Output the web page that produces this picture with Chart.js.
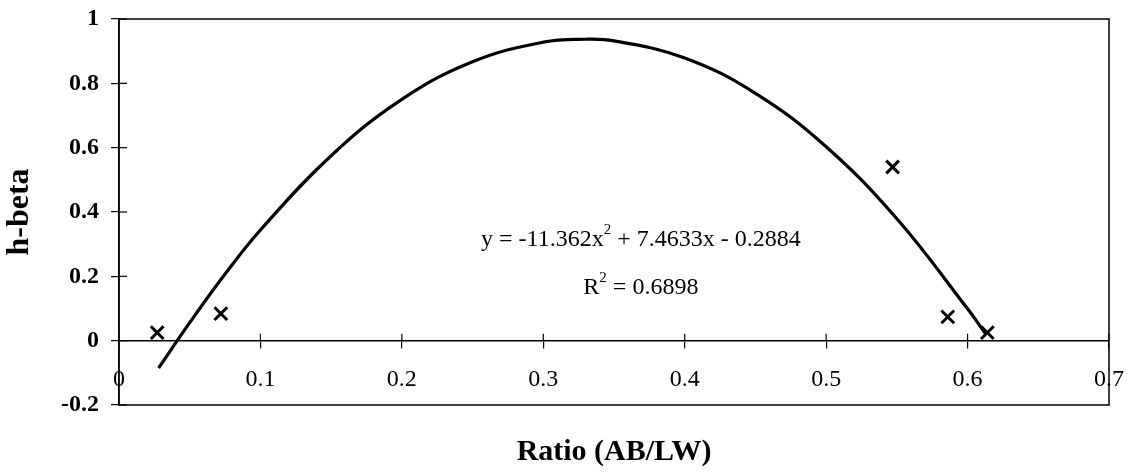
<!DOCTYPE html>
<html>
<head>
<meta charset="utf-8">
<script src="https://cdn.jsdelivr.net/npm/chart.js@4"></script>
<style>
  html, body { margin: 0; padding: 0; background: #fff; }
  #wrap { width: 1128px; height: 476px; }
</style>
</head>
<body>
<div id="wrap"><canvas id="myChart"></canvas></div>
<script>
// measured points (Ratio AB/LW vs h-beta)
const ratioX = [0.027, 0.072, 0.547, 0.586, 0.614];
const hbetaY = [0.025, 0.084, 0.54, 0.074, 0.025];

// trend curve
const curveX = [0.028, 0.05, 0.075, 0.1, 0.15, 0.2, 0.25, 0.3, 0.33, 0.35, 0.4, 0.45, 0.5, 0.55, 0.6, 0.613];
const curveY = [-0.085, 0.056, 0.207, 0.344, 0.575, 0.75, 0.867, 0.928, 0.937, 0.932, 0.879, 0.769, 0.603, 0.379, 0.099, 0.02];

const xTicks = [0, 0.1, 0.2, 0.3, 0.4, 0.5, 0.6, 0.7];
const yTicks = [-0.2, 0, 0.2, 0.4, 0.6, 0.8, 1];

const eqLine1 = ['y = -11.362x', '2', ' + 7.4633x - 0.2884'];
const eqLine2 = ['R', '2', ' = 0.6898'];

const serif = '"Liberation Serif", "Times New Roman", serif';

const points = ratioX.map((x, i) => ({ x: x, y: hbetaY[i] }));
const curve = curveX.map((x, i) => ({ x: x, y: curveY[i] }));

// frame + crossing ticks + equation text
const extras = {
  id: 'extras',
  afterDraw(chart) {
    const ctx = chart.ctx;
    const a = chart.chartArea;
    const xs = chart.scales.x, ys = chart.scales.y;
    ctx.save();
    ctx.strokeStyle = '#000';
    ctx.lineWidth = 1.5;
    ctx.strokeRect(a.left, a.top, a.right - a.left, a.bottom - a.top);

    // inner halves of tick marks
    const y0 = ys.getPixelForValue(0);
    ctx.lineWidth = 1.2;
    xTicks.forEach(v => {
      const px = xs.getPixelForValue(v);
      ctx.beginPath(); ctx.moveTo(px, y0 - 7); ctx.lineTo(px, y0); ctx.stroke();
    });
    yTicks.forEach(v => {
      const py = ys.getPixelForValue(v);
      ctx.beginPath(); ctx.moveTo(a.left, py); ctx.lineTo(a.left + 8, py); ctx.stroke();
    });

    // equation
    ctx.fillStyle = '#000';
    ctx.textBaseline = 'middle';
    function drawEq(parts, vx, vy) {
      const main = '24px ' + serif, sup = '15px ' + serif;
      ctx.font = main;
      const w0 = ctx.measureText(parts[0]).width;
      const w2 = ctx.measureText(parts[2]).width;
      ctx.font = sup;
      const w1 = ctx.measureText(parts[1]).width;
      const cx = xs.getPixelForValue(vx), cy = ys.getPixelForValue(vy);
      let x = cx - (w0 + w1 + w2) / 2;
      ctx.textAlign = 'left';
      ctx.font = main; ctx.fillText(parts[0], x, cy); x += w0;
      ctx.font = sup; ctx.fillText(parts[1], x, cy - 10); x += w1;
      ctx.font = main; ctx.fillText(parts[2], x, cy);
    }
    drawEq(eqLine1, 0.369, 0.314);
    drawEq(eqLine2, 0.369, 0.165);
    ctx.restore();
  }
};

const data = {
  datasets: [
    {
      label: 'trend',
      data: curve,
      showLine: true,
      borderColor: '#000',
      borderWidth: 3.2,
      pointRadius: 0,
      tension: 0.4,
      fill: false
    },
    {
      label: 'h-beta',
      data: points,
      showLine: false,
      pointStyle: 'crossRot',
      pointRadius: 9,
      borderColor: '#000',
      borderWidth: 3,
      backgroundColor: '#000'
    }
  ]
};

const config = {
  type: 'scatter',
  data: data,
  options: {
    responsive: true,
    maintainAspectRatio: false,
    animation: false,
    layout: { padding: { left: 0, right: 19, top: 19, bottom: 2 } },
    plugins: {
      legend: { display: false },
      tooltip: { enabled: false },
      title: {
        display: true,
        position: 'bottom',
        fullSize: false,
        text: 'Ratio (AB/LW)',
        color: '#000',
        font: { family: serif, size: 30, weight: 'bold' },
        padding: { top: 29, bottom: 4 }
      }
    },
    scales: {
      x: {
        type: 'linear',
        position: { y: 0 },
        min: 0,
        max: 0.7,
        afterBuildTicks: s => { s.ticks = xTicks.map(v => ({ value: v })); },
        afterFit: s => { s.paddingLeft = 0; s.paddingRight = 0; },
        ticks: {
          color: '#000',
          font: { family: serif, size: 24 },
          padding: 18,
          maxRotation: 0,
          autoSkip: false,
          callback: v => String(v)
        },
        grid: { drawOnChartArea: false, drawTicks: true, tickLength: 7, color: '#000', lineWidth: 1.2 },
        border: { display: true, color: '#000', width: 1.5 }
      },
      y: {
        type: 'linear',
        position: 'left',
        min: -0.2,
        max: 1,
        afterBuildTicks: s => { s.ticks = yTicks.map(v => ({ value: v })); },
        afterFit: s => { s.width = 119; s.paddingTop = 0; s.paddingBottom = 0; },
        ticks: {
          color: '#000',
          font: { family: serif, size: 24, weight: 'bold' },
          padding: 12,
          callback: v => String(Math.round(v * 10) / 10)
        },
        grid: { drawOnChartArea: false, drawTicks: true, tickLength: 8, color: '#000', lineWidth: 1.2 },
        border: { display: true, color: '#000', width: 1.5 },
        title: {
          display: true,
          text: 'h-beta',
          color: '#000',
          font: { family: serif, size: 32, weight: 'bold' },
          padding: { top: 1, bottom: 0 }
        }
      }
    }
  },
  plugins: [extras]
};

const myChart = new Chart(document.getElementById('myChart'), config);
</script>
</body>
</html>
